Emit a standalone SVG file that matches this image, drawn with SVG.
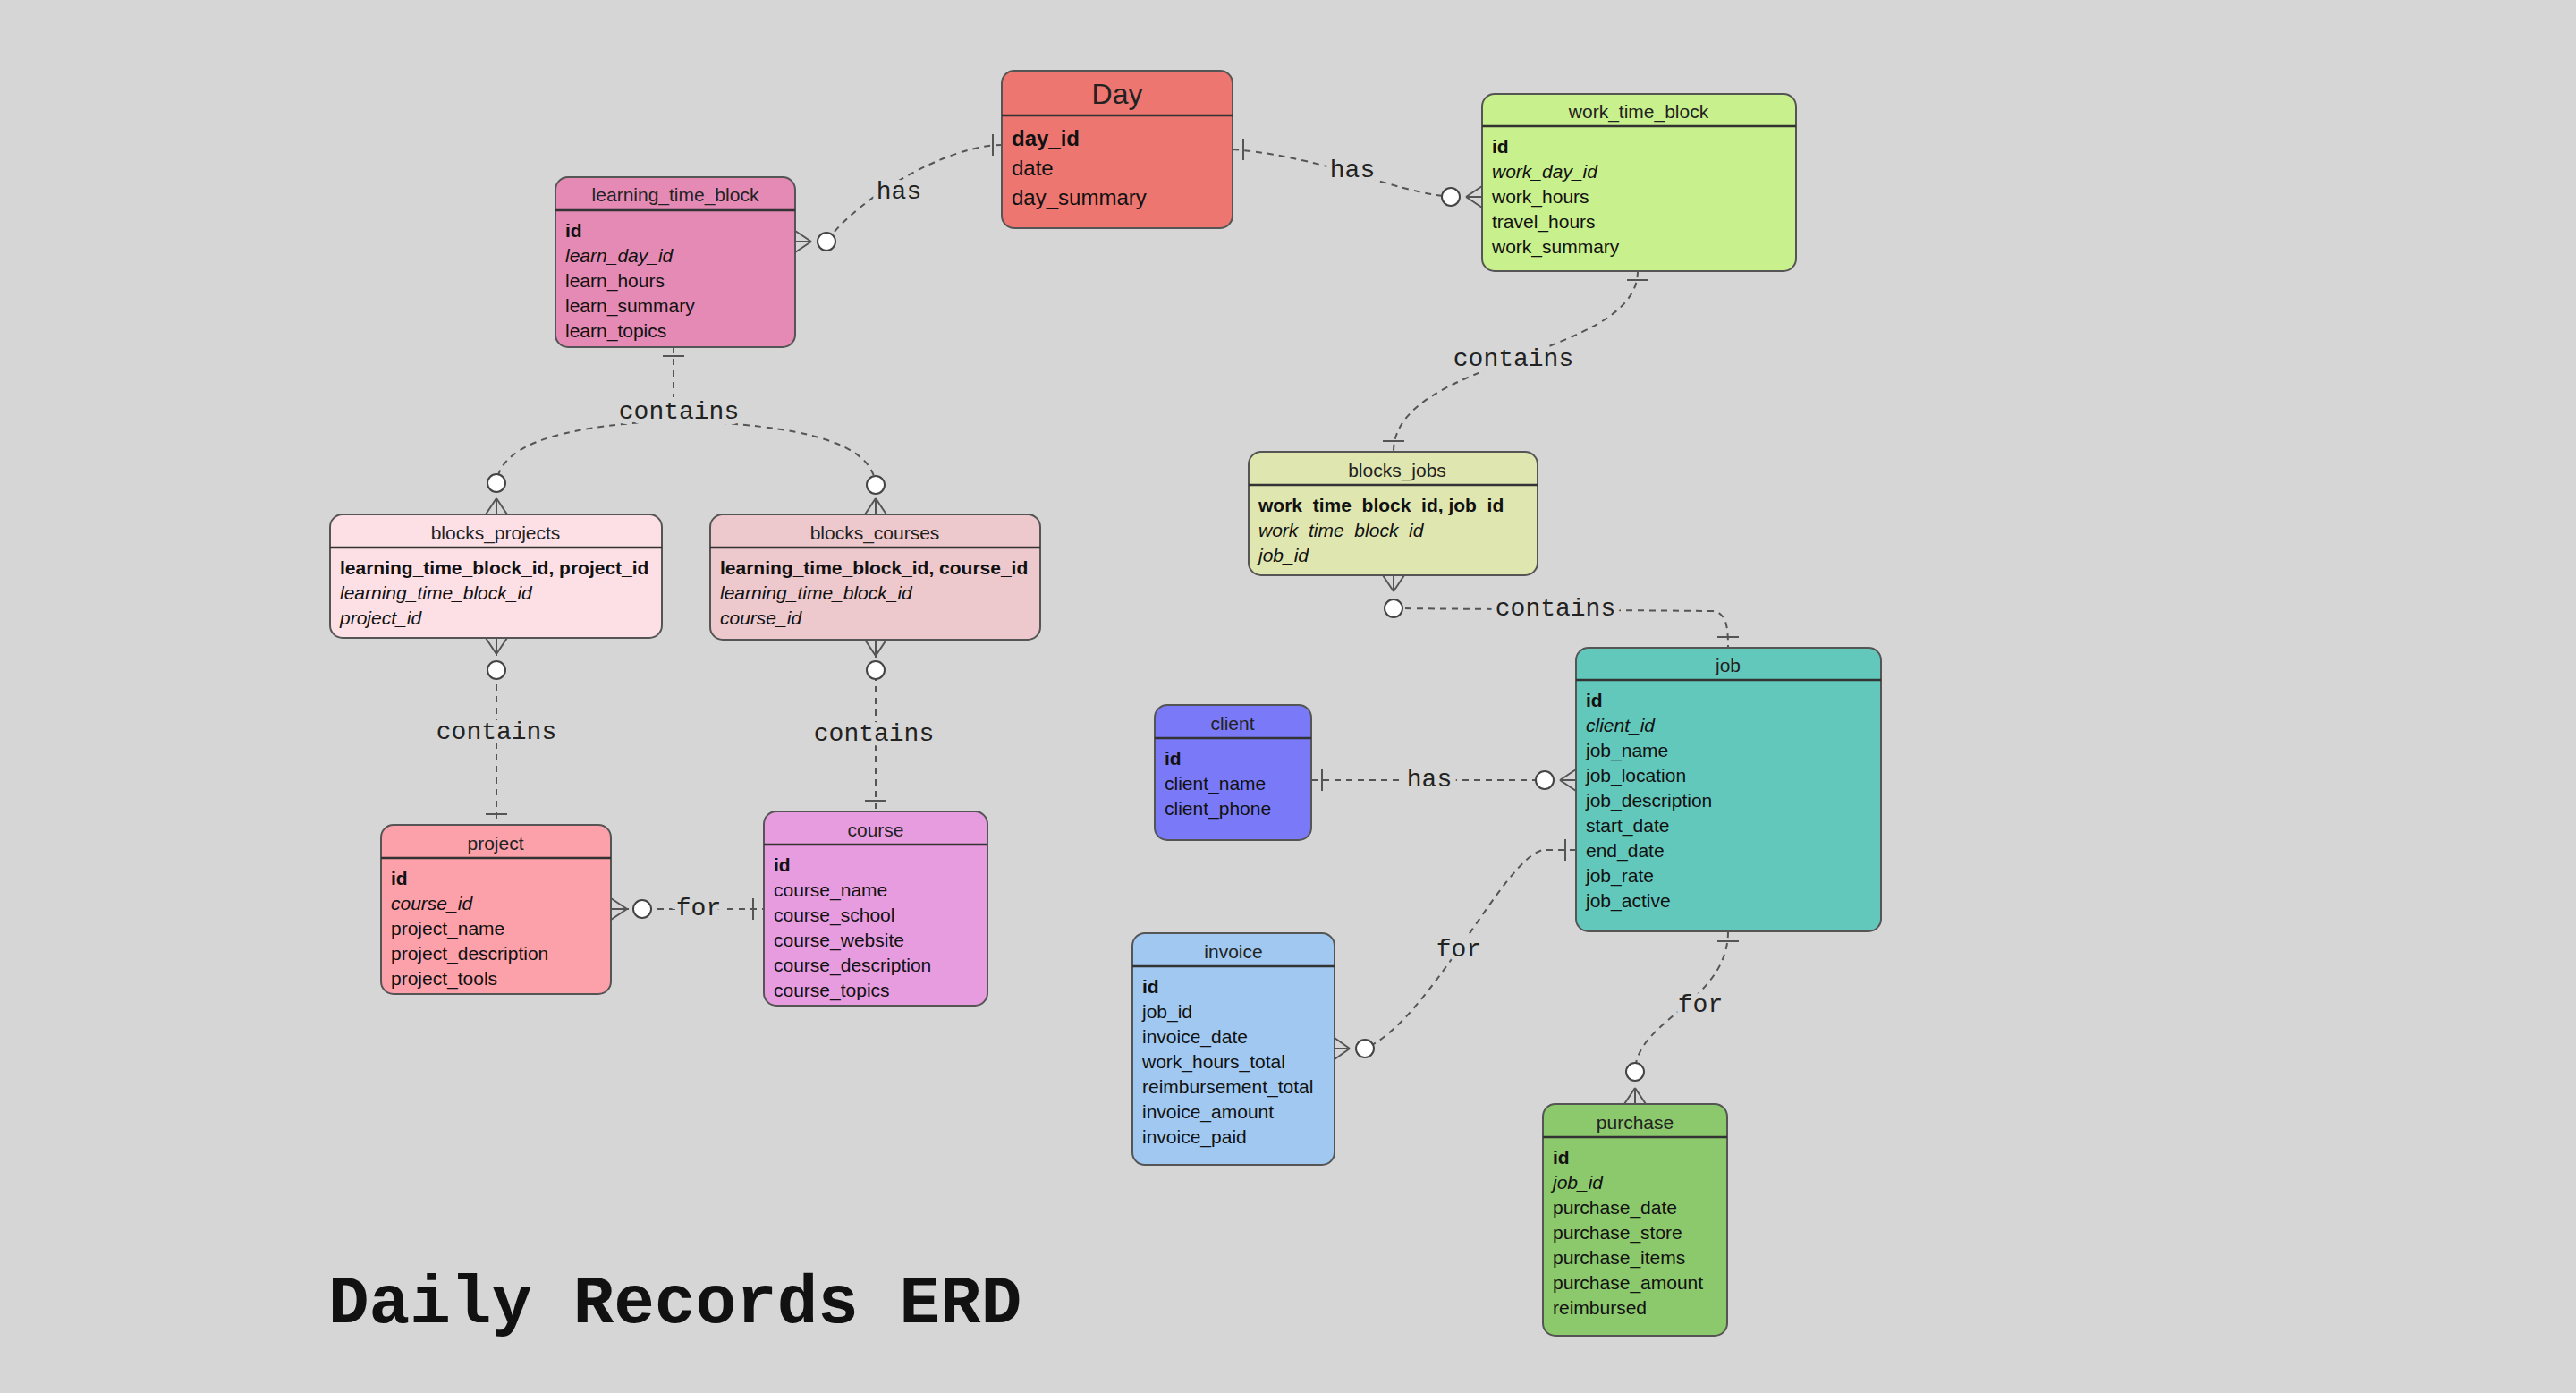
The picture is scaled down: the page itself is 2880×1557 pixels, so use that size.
<svg xmlns="http://www.w3.org/2000/svg" width="2880" height="1557" viewBox="0 0 2880 1557">
<style>
.e{stroke:#555;stroke-width:2}
.h{stroke:#333;stroke-width:2.5}
.t{font-family:"Liberation Sans",Arial,sans-serif;font-size:21px;fill:#111}
.ht{font-family:"Liberation Sans",Arial,sans-serif;font-size:21px;fill:#222;text-anchor:middle}
.b{font-weight:bold}
.i{font-style:italic}
.c{fill:none;stroke:#555;stroke-width:2;stroke-dasharray:7 6}
.m{fill:none;stroke:#555;stroke-width:2}
.o{fill:#fff;stroke:#444;stroke-width:2}
.l{font-family:"Liberation Mono","Courier New",monospace;font-size:28px;fill:#222;text-anchor:middle;dominant-baseline:middle;paint-order:stroke;stroke:#d6d6d6;stroke-width:12}
</style>
<rect width="2880" height="1557" fill="#d6d6d6"/>
<g id="connectors">
<path class="c" d="M1120,162 C1060,162 960,220 924,270"/>
<path class="m" d="M1110,150 V174 M907,270 L889,258 M907,270 L889,282 M907,270 H889"/>
<circle class="o" cx="924" cy="270" r="10"/>
<text class="l" x="1005" y="215">has</text>
<path class="c" d="M1378,167 C1480,175 1560,215 1622,220"/>
<path class="m" d="M1390,155 V179 M1639,220 L1657,208 M1639,220 L1657,232 M1639,220 H1657"/>
<circle class="o" cx="1622" cy="220" r="10"/>
<text class="l" x="1512" y="191">has</text>
<path class="c" d="M753,388 L753,470 M753,470 C650,475 560,490 555,540 M753,470 C900,475 975,495 979,542"/>
<path class="m" d="M741,398 H765 M555,557 L543,575 M555,557 L567,575 M555,557 V575 M979,557 L967,575 M979,557 L991,575 M979,557 V575"/>
<circle class="o" cx="555" cy="540" r="10"/>
<circle class="o" cx="979" cy="542" r="10"/>
<text class="l" x="759" y="461">contains</text>
<path class="c" d="M1831,303 C1831,400 1558,400 1558,505"/>
<path class="m" d="M1819,313 H1843 M1546,493 H1570"/>
<text class="l" x="1692" y="402">contains</text>
<path class="c" d="M555,713 L555,922"/>
<path class="m" d="M555,731 L543,713 M555,731 L567,713 M555,731 V713 M543,910 H567"/>
<circle class="o" cx="555" cy="749" r="10"/>
<text class="l" x="555" y="819">contains</text>
<path class="c" d="M979,715 L979,907"/>
<path class="m" d="M979,733 L967,715 M979,733 L991,715 M979,733 V715 M967,895 H991"/>
<circle class="o" cx="979" cy="749" r="10"/>
<text class="l" x="977" y="821">contains</text>
<path class="c" d="M683,1016 L854,1016"/>
<path class="m" d="M701,1016 L683,1004 M701,1016 L683,1028 M701,1016 H683 M842,1004 V1028"/>
<circle class="o" cx="718" cy="1016" r="10"/>
<text class="l" x="781" y="1016">for</text>
<path class="c" d="M1558,680 L1915,683 C1930,685 1932,700 1932,724"/>
<path class="m" d="M1558,661 L1546,643 M1558,661 L1570,643 M1558,661 V643 M1920,712 H1944"/>
<circle class="o" cx="1558" cy="680" r="10"/>
<text class="l" x="1739" y="681">contains</text>
<path class="c" d="M1466,872 L1727,872"/>
<path class="m" d="M1478,860 V884 M1744,872 L1762,860 M1744,872 L1762,884 M1744,872 H1762"/>
<circle class="o" cx="1727" cy="872" r="10"/>
<text class="l" x="1598" y="872">has</text>
<path class="c" d="M1762,950 L1725,950 C1680,960 1600,1140 1526,1172"/>
<path class="m" d="M1750,938 V962 M1509,1172 L1492,1160 M1509,1172 L1492,1184 M1509,1172 H1492"/>
<circle class="o" cx="1526" cy="1172" r="10"/>
<text class="l" x="1631" y="1062">for</text>
<path class="c" d="M1932,1041 C1932,1120 1828,1140 1828,1198"/>
<path class="m" d="M1920,1052 H1944 M1828,1216 L1816,1234 M1828,1216 L1840,1234 M1828,1216 V1234"/>
<circle class="o" cx="1828" cy="1198" r="10"/>
<text class="l" x="1901" y="1124">for</text>
</g>
<g id="day">
<rect class="e" x="1120" y="79" width="258" height="176" rx="14" fill="#ee7670"/>
<line class="h" x1="1120" y1="129" x2="1378" y2="129"/>
<text class="ht" x="1249" y="116" style="font-size:32px">Day</text>
<text class="t b" x="1131" y="163" style="font-size:24px">day_id</text>
<text class="t" x="1131" y="196" style="font-size:24px">date</text>
<text class="t" x="1131" y="229" style="font-size:24px">day_summary</text>
</g>
<g id="learning_time_block">
<rect class="e" x="621" y="198" width="268" height="190" rx="14" fill="#e48ab4"/>
<line class="h" x1="621" y1="235" x2="889" y2="235"/>
<text class="ht" x="755" y="225">learning_time_block</text>
<text class="t b" x="632" y="265">id</text>
<text class="t i" x="632" y="293">learn_day_id</text>
<text class="t" x="632" y="321">learn_hours</text>
<text class="t" x="632" y="349">learn_summary</text>
<text class="t" x="632" y="377">learn_topics</text>
</g>
<g id="work_time_block">
<rect class="e" x="1657" y="105" width="351" height="198" rx="14" fill="#c8f08c"/>
<line class="h" x1="1657" y1="141" x2="2008" y2="141"/>
<text class="ht" x="1832" y="132">work_time_block</text>
<text class="t b" x="1668" y="171">id</text>
<text class="t i" x="1668" y="199">work_day_id</text>
<text class="t" x="1668" y="227">work_hours</text>
<text class="t" x="1668" y="255">travel_hours</text>
<text class="t" x="1668" y="283">work_summary</text>
</g>
<g id="blocks_projects">
<rect class="e" x="369" y="575" width="371" height="138" rx="14" fill="#fde0e6"/>
<line class="h" x1="369" y1="612" x2="740" y2="612"/>
<text class="ht" x="554" y="603">blocks_projects</text>
<text class="t b" x="380" y="642">learning_time_block_id, project_id</text>
<text class="t i" x="380" y="670">learning_time_block_id</text>
<text class="t i" x="380" y="698">project_id</text>
</g>
<g id="blocks_courses">
<rect class="e" x="794" y="575" width="369" height="140" rx="14" fill="#edc8cc"/>
<line class="h" x1="794" y1="612" x2="1163" y2="612"/>
<text class="ht" x="978" y="603">blocks_courses</text>
<text class="t b" x="805" y="642">learning_time_block_id, course_id</text>
<text class="t i" x="805" y="670">learning_time_block_id</text>
<text class="t i" x="805" y="698">course_id</text>
</g>
<g id="blocks_jobs">
<rect class="e" x="1396" y="505" width="323" height="138" rx="14" fill="#e0e6b0"/>
<line class="h" x1="1396" y1="542" x2="1719" y2="542"/>
<text class="ht" x="1562" y="533">blocks_jobs</text>
<text class="t b" x="1407" y="572">work_time_block_id, job_id</text>
<text class="t i" x="1407" y="600">work_time_block_id</text>
<text class="t i" x="1407" y="628">job_id</text>
</g>
<g id="job">
<rect class="e" x="1762" y="724" width="341" height="317" rx="14" fill="#62c8bc"/>
<line class="h" x1="1762" y1="760" x2="2103" y2="760"/>
<text class="ht" x="1932" y="751">job</text>
<text class="t b" x="1773" y="790">id</text>
<text class="t i" x="1773" y="818">client_id</text>
<text class="t" x="1773" y="846">job_name</text>
<text class="t" x="1773" y="874">job_location</text>
<text class="t" x="1773" y="902">job_description</text>
<text class="t" x="1773" y="930">start_date</text>
<text class="t" x="1773" y="958">end_date</text>
<text class="t" x="1773" y="986">job_rate</text>
<text class="t" x="1773" y="1014">job_active</text>
</g>
<g id="client">
<rect class="e" x="1291" y="788" width="175" height="151" rx="14" fill="#7a7af8"/>
<line class="h" x1="1291" y1="825" x2="1466" y2="825"/>
<text class="ht" x="1378" y="816">client</text>
<text class="t b" x="1302" y="855">id</text>
<text class="t" x="1302" y="883">client_name</text>
<text class="t" x="1302" y="911">client_phone</text>
</g>
<g id="project">
<rect class="e" x="426" y="922" width="257" height="189" rx="14" fill="#fca0aa"/>
<line class="h" x1="426" y1="959" x2="683" y2="959"/>
<text class="ht" x="554" y="950">project</text>
<text class="t b" x="437" y="989">id</text>
<text class="t i" x="437" y="1017">course_id</text>
<text class="t" x="437" y="1045">project_name</text>
<text class="t" x="437" y="1073">project_description</text>
<text class="t" x="437" y="1101">project_tools</text>
</g>
<g id="course">
<rect class="e" x="854" y="907" width="250" height="217" rx="14" fill="#e89ce0"/>
<line class="h" x1="854" y1="944" x2="1104" y2="944"/>
<text class="ht" x="979" y="935">course</text>
<text class="t b" x="865" y="974">id</text>
<text class="t" x="865" y="1002">course_name</text>
<text class="t" x="865" y="1030">course_school</text>
<text class="t" x="865" y="1058">course_website</text>
<text class="t" x="865" y="1086">course_description</text>
<text class="t" x="865" y="1114">course_topics</text>
</g>
<g id="invoice">
<rect class="e" x="1266" y="1043" width="226" height="259" rx="14" fill="#a0c8f0"/>
<line class="h" x1="1266" y1="1080" x2="1492" y2="1080"/>
<text class="ht" x="1379" y="1071">invoice</text>
<text class="t b" x="1277" y="1110">id</text>
<text class="t" x="1277" y="1138">job_id</text>
<text class="t" x="1277" y="1166">invoice_date</text>
<text class="t" x="1277" y="1194">work_hours_total</text>
<text class="t" x="1277" y="1222">reimbursement_total</text>
<text class="t" x="1277" y="1250">invoice_amount</text>
<text class="t" x="1277" y="1278">invoice_paid</text>
</g>
<g id="purchase">
<rect class="e" x="1725" y="1234" width="206" height="259" rx="14" fill="#8cc86c"/>
<line class="h" x1="1725" y1="1271" x2="1931" y2="1271"/>
<text class="ht" x="1828" y="1262">purchase</text>
<text class="t b" x="1736" y="1301">id</text>
<text class="t i" x="1736" y="1329">job_id</text>
<text class="t" x="1736" y="1357">purchase_date</text>
<text class="t" x="1736" y="1385">purchase_store</text>
<text class="t" x="1736" y="1413">purchase_items</text>
<text class="t" x="1736" y="1441">purchase_amount</text>
<text class="t" x="1736" y="1469">reimbursed</text>
</g>
<text x="367" y="1478" style="font-family:'Liberation Mono','Courier New',monospace;font-size:76px;font-weight:bold;fill:#111">Daily Records ERD</text>
</svg>
